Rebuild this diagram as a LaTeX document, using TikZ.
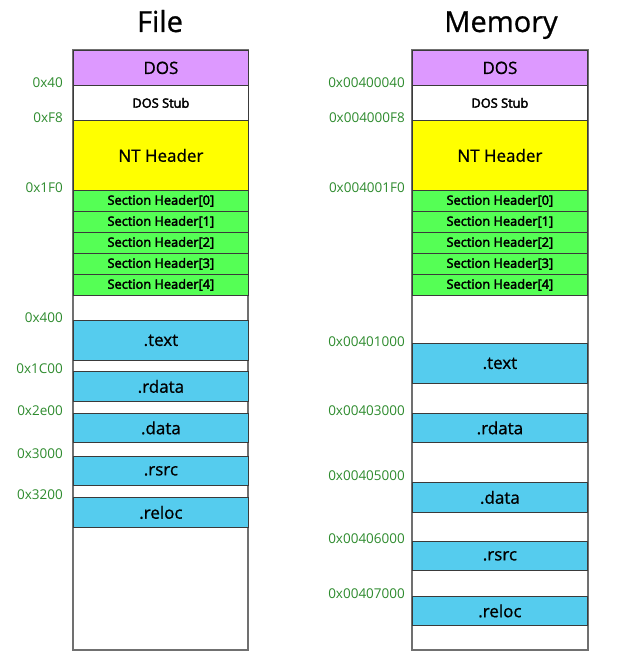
\documentclass[tikz,border=0pt]{standalone}
\usepackage{fontspec}
\setmainfont{Open Sans}
\newfontfamily\semib{Open Sans}[FakeBold=3]
\newfontfamily\medf{Open Sans}[FakeBold=0.8]
\definecolor{dosc}{HTML}{DD99FF}
\definecolor{ntc}{HTML}{FFFF00}
\definecolor{shc}{HTML}{55FF55}
\definecolor{secc}{HTML}{55CCEE}
\definecolor{addrc}{HTML}{2E8B2E}
\definecolor{outc}{HTML}{707070}
\definecolor{edgec}{HTML}{3A3A3A}
\tikzset{
  outer/.style={draw=outc, line width=1.3pt, fill=white},
  blk/.style={draw=edgec, line width=0.8pt, anchor=north west, inner sep=0pt, minimum width=175pt, text=black},
  big/.style={font=\fontsize{17}{19}\selectfont\medf},
  small/.style={font=\fontsize{12.8}{14}\selectfont\semib},
  addr/.style={anchor=east, text=addrc, font=\fontsize{13.5}{15}\selectfont, inner sep=0pt},
  title/.style={font=\fontsize{29}{32}\selectfont\medf, anchor=base, inner sep=0pt}
}
\newcommand{\myblk}[7]{%
  \pgfmathsetmacro{\hh}{#4-#3}%
  \node[blk, fill=#5, minimum height=\hh pt, #7] (#1) at (#2,#3) {#6};}
\begin{document}
\begin{tikzpicture}[x=1pt,y=-1pt]
\useasboundingbox (0,0) rectangle (640,655);
\node[title] (tf) at (160,32) {File};
\node[title] (tm) at (501,32) {Memory};
% File column
\draw[outer] (73,50) rectangle (248,650);
\myblk{fdos}{73}{50}{85}{dosc}{DOS}{big}
\myblk{fstub}{73}{85}{120}{white}{DOS Stub}{small}
\myblk{fnt}{73}{120}{190}{ntc}{NT Header}{big}
\myblk{fsh0}{73}{190}{211}{shc}{Section Header[0]}{small}
\myblk{fsh1}{73}{211}{232}{shc}{Section Header[1]}{small}
\myblk{fsh2}{73}{232}{253}{shc}{Section Header[2]}{small}
\myblk{fsh3}{73}{253}{274}{shc}{Section Header[3]}{small}
\myblk{fsh4}{73}{274}{295}{shc}{Section Header[4]}{small}
\myblk{ftext}{73}{320}{360}{secc}{.text}{big}
\myblk{frdata}{73}{371}{401}{secc}{.rdata}{big}
\myblk{fdata}{73}{413}{442}{secc}{.data}{big}
\myblk{frsrc}{73}{456}{485}{secc}{.rsrc}{big}
\myblk{freloc}{73}{497}{527}{secc}{.reloc}{big}
\node[addr] (fa1) at (63,83) {0x40};
\node[addr] (fa2) at (63,118) {0xF8};
\node[addr] (fa3) at (63,188) {0x1F0};
\node[addr] (fa4) at (63,318) {0x400};
\node[addr] (fa5) at (63,369) {0x1C00};
\node[addr] (fa6) at (63,411) {0x2e00};
\node[addr] (fa7) at (63,454) {0x3000};
\node[addr] (fa8) at (63,495) {0x3200};
% Memory column
\draw[outer] (412,50) rectangle (588,650);
\myblk{mdos}{412}{50}{85}{dosc}{DOS}{big}
\myblk{mstub}{412}{85}{120}{white}{DOS Stub}{small}
\myblk{mnt}{412}{120}{190}{ntc}{NT Header}{big}
\myblk{msh0}{412}{190}{211}{shc}{Section Header[0]}{small}
\myblk{msh1}{412}{211}{232}{shc}{Section Header[1]}{small}
\myblk{msh2}{412}{232}{253}{shc}{Section Header[2]}{small}
\myblk{msh3}{412}{253}{274}{shc}{Section Header[3]}{small}
\myblk{msh4}{412}{274}{295}{shc}{Section Header[4]}{small}
\myblk{mtext}{412}{343}{383}{secc}{.text}{big}
\myblk{mrdata}{412}{413}{442}{secc}{.rdata}{big}
\myblk{mdata}{412}{482}{512}{secc}{.data}{big}
\myblk{mrsrc}{412}{541}{570}{secc}{.rsrc}{big}
\myblk{mreloc}{412}{596}{625}{secc}{.reloc}{big}
\node[addr] (ma1) at (405,83) {0x00400040};
\node[addr] (ma2) at (405,118) {0x004000F8};
\node[addr] (ma3) at (405,188) {0x004001F0};
\node[addr] (ma4) at (405,342) {0x00401000};
\node[addr] (ma5) at (405,411) {0x00403000};
\node[addr] (ma6) at (405,476) {0x00405000};
\node[addr] (ma7) at (405,539) {0x00406000};
\node[addr] (ma8) at (405,594) {0x00407000};
\end{tikzpicture}
\end{document}
